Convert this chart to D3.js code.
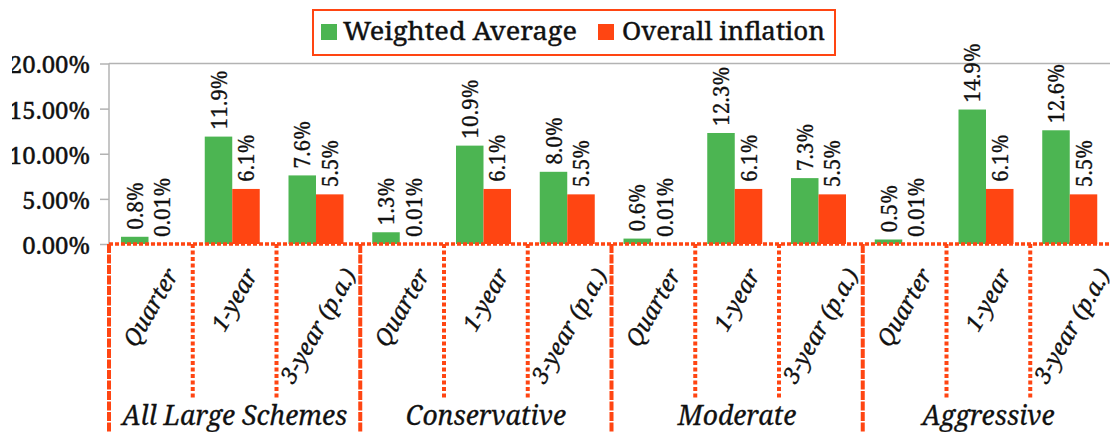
<!DOCTYPE html>
<html>
<head>
<meta charset="utf-8">
<script src="https://cdn.jsdelivr.net/npm/d3@7"></script>
<style>
  html, body { margin: 0; padding: 0; background: #fff; }
  svg { display: block; }
</style>
</head>
<body>
<svg id="chart" width="1110" height="432"></svg>
<script>
// ---- data ----
const groups = ["All Large Schemes", "Conservative", "Moderate", "Aggressive"];
const periods = ["Quarter", "1-year", "3-year (p.a.)"];
const seriesNames = ["Weighted Average", "Overall inflation"];
const weightedAverage = [0.8, 11.9, 7.6, 1.3, 10.9, 8.0, 0.6, 12.3, 7.3, 0.5, 14.9, 12.6];
const overallInflation = [0.01, 6.1, 5.5, 0.01, 6.1, 5.5, 0.01, 6.1, 5.5, 0.01, 6.1, 5.5];
const weightedLabels = ["0.8%", "11.9%", "7.6%", "1.3%", "10.9%", "8.0%", "0.6%", "12.3%", "7.3%", "0.5%", "14.9%", "12.6%"];
const inflationLabels = ["0.01%", "6.1%", "5.5%", "0.01%", "6.1%", "5.5%", "0.01%", "6.1%", "5.5%", "0.01%", "6.1%", "5.5%"];
const yTicks = [0, 5, 10, 15, 20];

const FONT = "'Noto Serif', 'DejaVu Serif', serif";
const colors = ["#4cb552", "#ff4512"];
const sep = "#ff4512";

const svg = d3.select("#chart");
const cats = d3.range(groups.length * periods.length);

const x = d3.scaleBand().domain(cats).range([109, 1114]).padding(0);
const xs = d3.scaleBand().domain([0, 1]).range([12, 12 + 55]).padding(0);
const y = d3.scaleLinear().domain([0, 20]).range([244, 63.5]);

function txt(sel) {
  return sel.attr("font-family", FONT).style("font-family", FONT).attr("fill", "#111");
}

// ---- y axis ----
const yAxisG = svg.append("g").attr("transform", "translate(109,0)");
yAxisG.call(d3.axisLeft(y).tickValues(yTicks).tickSize(9).tickPadding(0).tickFormat(() => ""));
yAxisG.select(".domain").attr("stroke", "#b3b3b3").attr("stroke-width", 1.5).attr("d", `M0,${y(20)}V${y(0)}`);
yAxisG.selectAll(".tick line").attr("stroke", "#b3b3b3").attr("stroke-width", 1.5);

svg.append("clipPath").attr("id", "ylabclip")
  .append("rect").attr("x", 12).attr("y", 0).attr("width", 100).attr("height", 432);
svg.append("g").attr("clip-path", "url(#ylabclip)")
  .selectAll("text").data(yTicks).join("text")
  .call(txt)
  .attr("x", 90).attr("y", d => y(d))
  .attr("text-anchor", "end").attr("dominant-baseline", "central")
  .attr("dy", "0.02em")
  .style("font-size", "24px")
  .style("stroke", "#111").style("stroke-width", 0.4)
  .text(d => d3.format(".2f")(d) + "%");

// top border line
svg.append("line").attr("x1", 109).attr("x2", 1110).attr("y1", y(20)).attr("y2", y(20))
  .attr("stroke", "#b3b3b3").attr("stroke-width", 1.5);

// ---- bars ----
const seriesData = [weightedAverage, overallInflation];
const seriesLabels = [weightedLabels, inflationLabels];
seriesData.forEach((vals, s) => {
  svg.append("g").selectAll("rect").data(cats).join("rect")
    .attr("x", i => x(i) + xs(s))
    .attr("y", i => y(vals[i]))
    .attr("width", xs.bandwidth())
    .attr("height", i => y(0) - y(vals[i]))
    .attr("fill", colors[s]);
});

// data labels
seriesData.forEach((vals, s) => {
  svg.append("g").selectAll("text").data(cats).join("text")
    .call(txt)
    .attr("transform", i => `translate(${x(i) + xs(s) + xs.bandwidth() / 2},${y(vals[i]) - 7}) rotate(-90)`)
    .attr("text-anchor", "start").attr("dominant-baseline", "central")
    .style("font-size", "21px")
    .style("stroke", "#111").style("stroke-width", 0.25)
    .text(i => seriesLabels[s][i]);
});

// ---- x axis (dotted) ----
svg.append("line").attr("x1", 109).attr("x2", 1110).attr("y1", y(0)).attr("y2", y(0))
  .attr("stroke", sep).attr("stroke-width", 3.5).attr("stroke-dasharray", "4 2");

// separators
cats.forEach(i => {
  const isGroup = i % periods.length === 0;
  svg.append("line")
    .attr("x1", x(i)).attr("x2", x(i))
    .attr("y1", y(0)).attr("y2", isGroup ? 432 : 400)
    .attr("stroke", sep).attr("stroke-width", 4)
    .attr("stroke-dasharray", isGroup ? "9 1.5" : "4 2.5");
});

// category labels rotated -60, box top at y=265, centred on category
const angle = 60 * Math.PI / 180;
const catG = svg.append("g");
cats.forEach(i => {
  const t = catG.append("text")
    .call(txt)
    .attr("text-anchor", "middle").attr("dominant-baseline", "central")
    .style("font-size", "23px").style("font-style", "italic")
    .style("stroke", "#111").style("stroke-width", 0.3)
    .text(periods[i % periods.length]);
  const L = t.node().getComputedTextLength();
  const h = 20;
  const H = L * Math.sin(angle) + h * Math.cos(angle);
  const cx = x(i) + x.bandwidth() / 2 - 1;
  const cy = 265 + H / 2;
  t.attr("transform", `translate(${cx},${cy}) rotate(-60)`);
});

// group labels
svg.append("g").selectAll("text").data(groups).join("text")
  .call(txt)
  .attr("x", (g, gi) => x(gi * 3) + x.bandwidth() * 1.5)
  .attr("y", 425)
  .attr("text-anchor", "middle")
  .style("font-size", "26.5px").style("font-style", "italic")
  .style("stroke", "#111").style("stroke-width", 0.3)
  .text(g => g);

// ---- legend ----
const leg = svg.append("g");
leg.append("rect").attr("x", 313).attr("y", 10).attr("width", 522).attr("height", 45)
  .attr("fill", "#fff").attr("stroke", sep).attr("stroke-width", 2);
const legItems = [
  { name: seriesNames[0], sx: 321, tx: 343, w: 234 },
  { name: seriesNames[1], sx: 598, tx: 622, w: 203 }
];
legItems.forEach((it, s) => {
  leg.append("rect").attr("x", it.sx).attr("y", 24).attr("width", 16).attr("height", 16).attr("fill", colors[s]);
  leg.append("text").call(txt).attr("x", it.tx).attr("y", 40)
    .style("font-size", "26px")
    .style("stroke", "#111").style("stroke-width", 0.4)
    .attr("textLength", it.w).attr("lengthAdjust", "spacingAndGlyphs")
    .text(it.name);
});
</script>
</body>
</html>
